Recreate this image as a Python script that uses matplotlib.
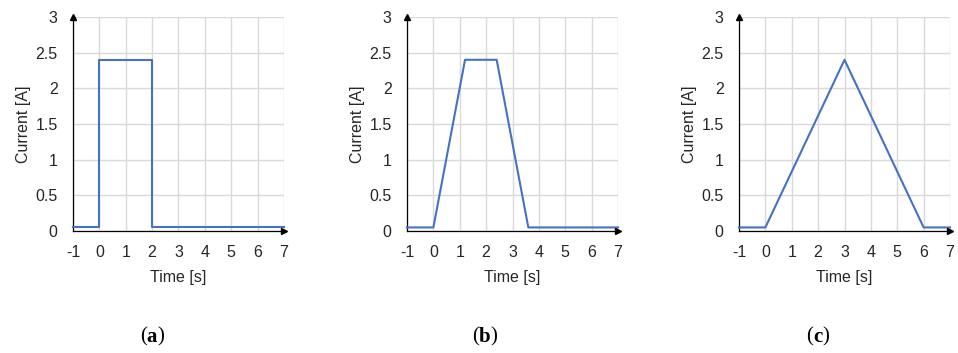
import matplotlib
matplotlib.use("Agg")
import matplotlib.pyplot as plt

# Data
t_a = [-1, 0, 0, 2, 2, 7]
i_a = [0.05, 0.05, 2.4, 2.4, 0.05, 0.05]
t_b = [-1, 0, 1.2, 2.4, 3.6, 7]
i_b = [0.05, 0.05, 2.4, 2.4, 0.05, 0.05]
t_c = [-1, 0, 3, 6, 7]
i_c = [0.05, 0.05, 2.4, 0.05, 0.05]
x_ticks = [-1, 0, 1, 2, 3, 4, 5, 6, 7]
y_ticks = [0, 0.5, 1, 1.5, 2, 2.5, 3]
y_ticklabels = ["0", "0.5", "1", "1.5", "2", "2.5", "3"]
captions = ["a", "b", "c"]

W, H = 958, 353
plt.rcParams['font.family'] = ['Liberation Sans', 'DejaVu Sans']
plt.rcParams['axes.unicode_minus'] = False
fig = plt.figure(figsize=(W / 100, H / 100), dpi=100)

lefts = [73, 407, 739]
width = 211
top, bottom = 17, 231
txt_color = '#262626'
data = [(t_a, i_a), (t_b, i_b), (t_c, i_c)]
cap_centers = [152, 485, 818]

fig.canvas.draw()
renderer = fig.canvas.get_renderer()

for k, (left, (tx, iy)) in enumerate(zip(lefts, data)):
    ax = fig.add_axes([left / W, (H - bottom) / H, width / W, (bottom - top) / H])
    ax.set_xlim(-1, 7)
    ax.set_ylim(0, 3)
    ax.set_xticks(x_ticks)
    ax.set_yticks(y_ticks)
    ax.set_yticklabels(y_ticklabels)
    ax.grid(True, color='#d9d9d9', linewidth=1.0)
    ax.set_axisbelow(True)
    for s in ['top', 'right']:
        ax.spines[s].set_visible(False)
    for s in ['left', 'bottom']:
        ax.spines[s].set_color('black')
        ax.spines[s].set_linewidth(0.9)
        ax.spines[s].set_zorder(3)
    ax.tick_params(length=0, labelsize=11.5, labelcolor=txt_color)
    ax.tick_params(axis='y', pad=11)
    ax.tick_params(axis='x', pad=10)
    ax.plot(tx, iy, color='#4472c4', linewidth=1.5, clip_on=False, zorder=4)
    ax.plot(1, 0, ">", color='black', markersize=4, transform=ax.transAxes, clip_on=False, zorder=5)
    ax.plot(0, 1, "^", color='black', markersize=4, transform=ax.transAxes, clip_on=False, zorder=5)
    ax.set_xlabel("Time [s]", fontsize=11.5, color=txt_color, labelpad=7)
    ax.set_ylabel("Current [A]", fontsize=11.5, color=txt_color, labelpad=3)

    # caption "(x)" with bold letter
    cy = (H - 337) / H
    kw = dict(fontsize=15, family=['Liberation Serif', 'DejaVu Serif'], va='center', color='black')
    t1 = fig.text(0, cy, "(", **kw)
    t2 = fig.text(0, cy, captions[k], fontweight='bold', **kw)
    t3 = fig.text(0, cy, ")", **kw)
    w1 = t1.get_window_extent(renderer).width
    w2 = t2.get_window_extent(renderer).width
    w3 = t3.get_window_extent(renderer).width
    x0 = cap_centers[k] - (w1 + w2 + w3) / 2
    t1.set_x(x0 / W)
    t2.set_x((x0 + w1) / W)
    t3.set_x((x0 + w1 + w2) / W)

fig.savefig("out.png", dpi=100)
